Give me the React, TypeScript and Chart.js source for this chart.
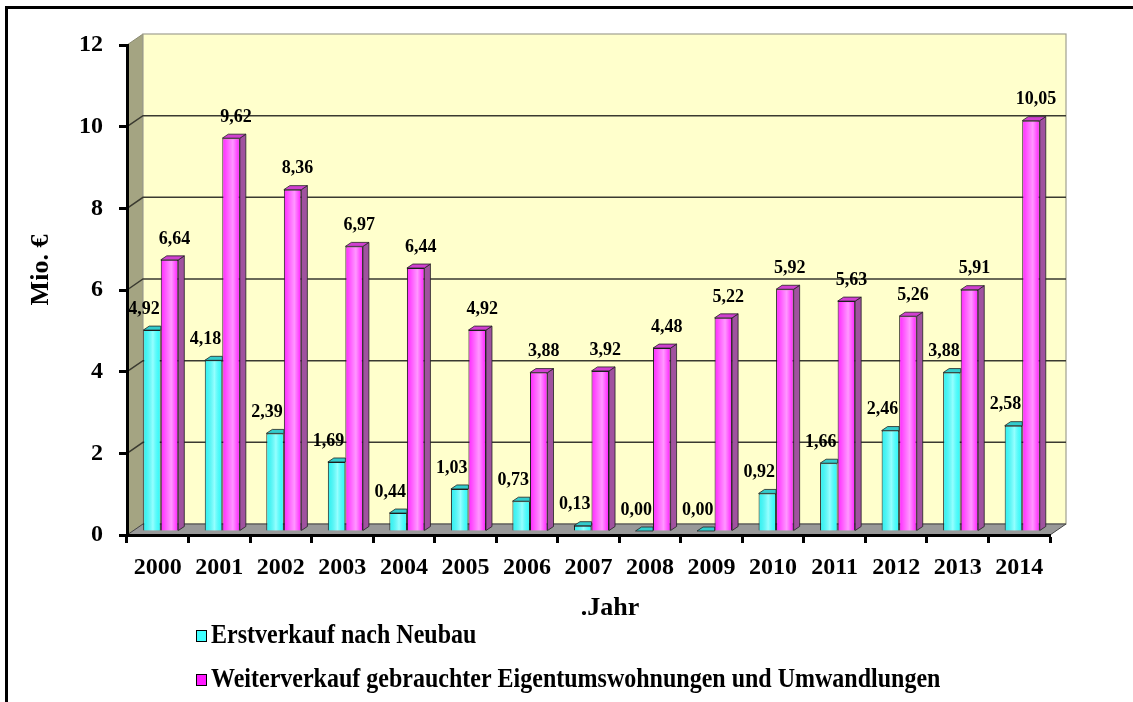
import React, { useEffect, useRef } from "react";
import { Chart, registerables } from "chart.js";

Chart.register(...registerables);

// ---- data ----
const years = ["2000", "2001", "2002", "2003", "2004", "2005", "2006", "2007", "2008", "2009", "2010", "2011", "2012", "2013", "2014"];
const erstverkauf = [4.92, 4.18, 2.39, 1.69, 0.44, 1.03, 0.73, 0.13, 0.0, 0.0, 0.92, 1.66, 2.46, 3.88, 2.58];
const weiterverkauf = [6.64, 9.62, 8.36, 6.97, 6.44, 4.92, 3.88, 3.92, 4.48, 5.22, 5.92, 5.63, 5.26, 5.91, 10.05];
const yTicks = [0, 2, 4, 6, 8, 10, 12];
const seriesLabels = ["Erstverkauf nach Neubau", "Weiterverkauf gebrauchter Eigentumswohnungen und Umwandlungen"];
const yTitle = "Mio. €";
const xTitle = ".Jahr";

// ---- style ----
const FONT = "'Liberation Serif', 'Times New Roman', serif";
const W = 1133;
const H = 702;
const WALL_DX = 16;
const WALL_DY = -11;
const SHIFT_X = 3;
const SHIFT_Y = -4;
const BAR_DX = 6;
const BAR_DY = -4;
const CYAN = "#40FFFF";
const MAGENTA = "#FF1AFF";

function quad(ctx: CanvasRenderingContext2D, pts: number[][], fill: string, stroke = "#222", lw = 0.8) {
  ctx.beginPath();
  ctx.moveTo(pts[0][0], pts[0][1]);
  for (let i = 1; i < pts.length; i++) ctx.lineTo(pts[i][0], pts[i][1]);
  ctx.closePath();
  ctx.fillStyle = fill;
  ctx.fill();
  ctx.strokeStyle = stroke;
  ctx.lineWidth = lw;
  ctx.stroke();
}

function shade(ctx: CanvasRenderingContext2D, L: number, R: number, top: number, bot: number, stops: [number, string][]) {
  if (bot - top < 2) return;
  const g = ctx.createLinearGradient(L, 0, R, 0);
  stops.forEach(([o, c]) => g.addColorStop(o, c));
  ctx.fillStyle = g;
  ctx.fillRect(L + 1, top + 1, R - L - 2, bot - top - 1);
}

const scenePlugin = {
  id: "scene3d",
  beforeDraw(chart: any) {
    const { ctx, chartArea: a, scales } = chart;
    const y = scales.y;
    const L = a.left, R = a.right, T = a.top, B = a.bottom;
    ctx.save();
    // frame
    ctx.fillStyle = "#000";
    ctx.fillRect(5, 6, W - 5, 3);
    ctx.fillRect(5, 6, 3, H - 6);
    // side wall
    quad(ctx, [[L, T], [L + WALL_DX, T + WALL_DY], [L + WALL_DX, B + WALL_DY], [L, B]], "#A4A482", "#8a8a70", 1);
    // back wall
    ctx.fillStyle = "#FFFFCC";
    ctx.fillRect(L + WALL_DX, T + WALL_DY, R - L, B - T);
    ctx.strokeStyle = "#a0a090";
    ctx.lineWidth = 1.2;
    ctx.strokeRect(L + WALL_DX, T + WALL_DY, R - L, B - T);
    // grid lines
    yTicks.forEach((v) => {
      if (v === 0 || v === yTicks[yTicks.length - 1]) return;
      const py = y.getPixelForValue(v);
      ctx.beginPath();
      ctx.moveTo(L, py);
      ctx.lineTo(L + WALL_DX, py + WALL_DY);
      ctx.lineTo(R + WALL_DX, py + WALL_DY);
      ctx.strokeStyle = "#3a3a30";
      ctx.lineWidth = 1.5;
      ctx.stroke();
    });
    // floor
    quad(ctx, [[L, B], [L + WALL_DX, B + WALL_DY], [R + WALL_DX, B + WALL_DY], [R, B]], "#999999", "#444", 1);
    ctx.restore();
  },
  beforeDatasetsDraw(chart: any) {
    chart.ctx.save();
    chart.ctx.translate(SHIFT_X, SHIFT_Y);
  },
  afterDatasetsDraw(chart: any) {
    const ctx: CanvasRenderingContext2D = chart.ctx;
    const m0 = chart.getDatasetMeta(0).data;
    const m1 = chart.getDatasetMeta(1).data;
    for (let i = 0; i < m0.length; i++) {
      const c = m0[i];
      const m = m1[i];
      // cyan
      {
        const Lc = c.x - c.width / 2, Rc = c.x + c.width / 2;
        shade(ctx, Lc, Rc, c.y, c.base, [[0, "rgba(0,190,190,0.2)"], [0.55, "rgba(255,255,255,0.45)"], [1, "rgba(0,220,220,0.15)"]]);
        quad(ctx, [[Lc, c.y], [Lc + BAR_DX, c.y + BAR_DY], [Rc, c.y + BAR_DY], [Rc, c.y]], "#33CCCC");
      }
      // magenta
      {
        const Lm = m.x - m.width / 2, Rm = m.x + m.width / 2;
        shade(ctx, Lm, Rm, m.y, m.base, [[0, "rgba(255,255,255,0.05)"], [0.6, "rgba(255,255,255,0.55)"], [1, "rgba(255,255,255,0)"]]);
        quad(ctx, [[Rm, m.y], [Rm + BAR_DX, m.y + BAR_DY], [Rm + BAR_DX, m.base + BAR_DY], [Rm, m.base]], "#A0529F");
        quad(ctx, [[Lm, m.y], [Lm + BAR_DX, m.y + BAR_DY], [Rm + BAR_DX, m.y + BAR_DY], [Rm, m.y]], "#D040D0");
      }
    }
    ctx.restore();
    // value labels
    ctx.save();
    ctx.font = `bold 18px ${FONT}`;
    ctx.fillStyle = "#000";
    ctx.textAlign = "center";
    ctx.textBaseline = "middle";
    const ds = chart.data.datasets;
    for (let i = 0; i < m0.length; i++) {
      const c = m0[i];
      const m = m1[i];
      ctx.fillText(Number(ds[0].data[i]).toFixed(2).replace(".", ","), c.x + SHIFT_X - 8, c.y + SHIFT_Y - 21);
      ctx.fillText(Number(ds[1].data[i]).toFixed(2).replace(".", ","), m.x + SHIFT_X + 5, m.y + SHIFT_Y - 21);
    }
    ctx.restore();
  },
  afterDraw(chart: any) {
    const ctx: CanvasRenderingContext2D = chart.ctx;
    ctx.save();
    ctx.fillStyle = "#000";
    // y title
    ctx.save();
    ctx.translate(41, 270);
    ctx.rotate(-Math.PI / 2);
    ctx.font = `bold 26px ${FONT}`;
    ctx.textAlign = "center";
    ctx.textBaseline = "middle";
    ctx.fillText(yTitle, 0, 0);
    ctx.restore();
    // x title
    ctx.font = `bold 26px ${FONT}`;
    ctx.textAlign = "center";
    ctx.textBaseline = "middle";
    ctx.fillText(xTitle, 610, 608);
    // legend
    const colors = [CYAN, MAGENTA];
    const rows = [636, 680];
    seriesLabels.forEach((lab, k) => {
      const ry = rows[k];
      ctx.fillStyle = colors[k];
      ctx.fillRect(196, ry - 6, 11, 12);
      ctx.strokeStyle = "#000";
      ctx.lineWidth = 1;
      ctx.strokeRect(196.5, ry - 5.5, 10, 11);
      ctx.save();
      ctx.translate(211, ry);
      ctx.scale(1, 1.1);
      ctx.fillStyle = "#000";
      ctx.font = `bold 24px ${FONT}`;
      ctx.textAlign = "left";
      ctx.textBaseline = "middle";
      ctx.fillText(lab, 0, 0);
      ctx.restore();
    });
    ctx.restore();
  },
};

export default function App() {
  const ref = useRef<HTMLCanvasElement | null>(null);
  useEffect(() => {
    if (!ref.current) return;
    const tickFont = { family: FONT, size: 24, weight: "bold" as const };
    const chart = new Chart(ref.current, {
      type: "bar",
      data: {
        labels: years,
        datasets: [
          { label: seriesLabels[0], data: erstverkauf, backgroundColor: CYAN, borderColor: "#1a1a1a", borderWidth: 1 },
          { label: seriesLabels[1], data: weiterverkauf, backgroundColor: MAGENTA, borderColor: "#1a1a1a", borderWidth: 1 },
        ],
      },
      options: {
        responsive: false,
        animation: false,
        layout: { padding: { left: 0, top: 45, right: 83, bottom: 702 - 535 - 60 } },
        datasets: { bar: { categoryPercentage: 0.57, barPercentage: 1, clip: false as any } },
        plugins: { legend: { display: false }, tooltip: { enabled: false } },
        scales: {
          x: {
            grid: { display: true, drawOnChartArea: false, drawTicks: true, tickLength: 8, tickWidth: 3, tickColor: "#000", offset: true },
            border: { display: true, color: "#000", width: 3 },
            ticks: { font: tickFont, color: "#000", padding: 10, maxRotation: 0, autoSkip: false },
            afterFit: (s: any) => {
              s.height = 60;
            },
          },
          y: {
            min: 0,
            max: 12,
            ticks: { stepSize: 2, font: tickFont, color: "#000", padding: 16 },
            grid: { display: true, drawOnChartArea: false, drawTicks: true, tickLength: 8, tickWidth: 3, tickColor: "#000" },
            border: { display: true, color: "#000", width: 3 },
            afterFit: (s: any) => {
              s.width = 127;
            },
          },
        },
      },
      plugins: [scenePlugin],
    });
    return () => chart.destroy();
  }, []);
  return (
    <div style={{ position: "fixed", left: 0, top: 0, width: W, height: H, background: "#fff" }}>
      <canvas ref={ref} width={W} height={H} style={{ display: "block" }} />
    </div>
  );
}
